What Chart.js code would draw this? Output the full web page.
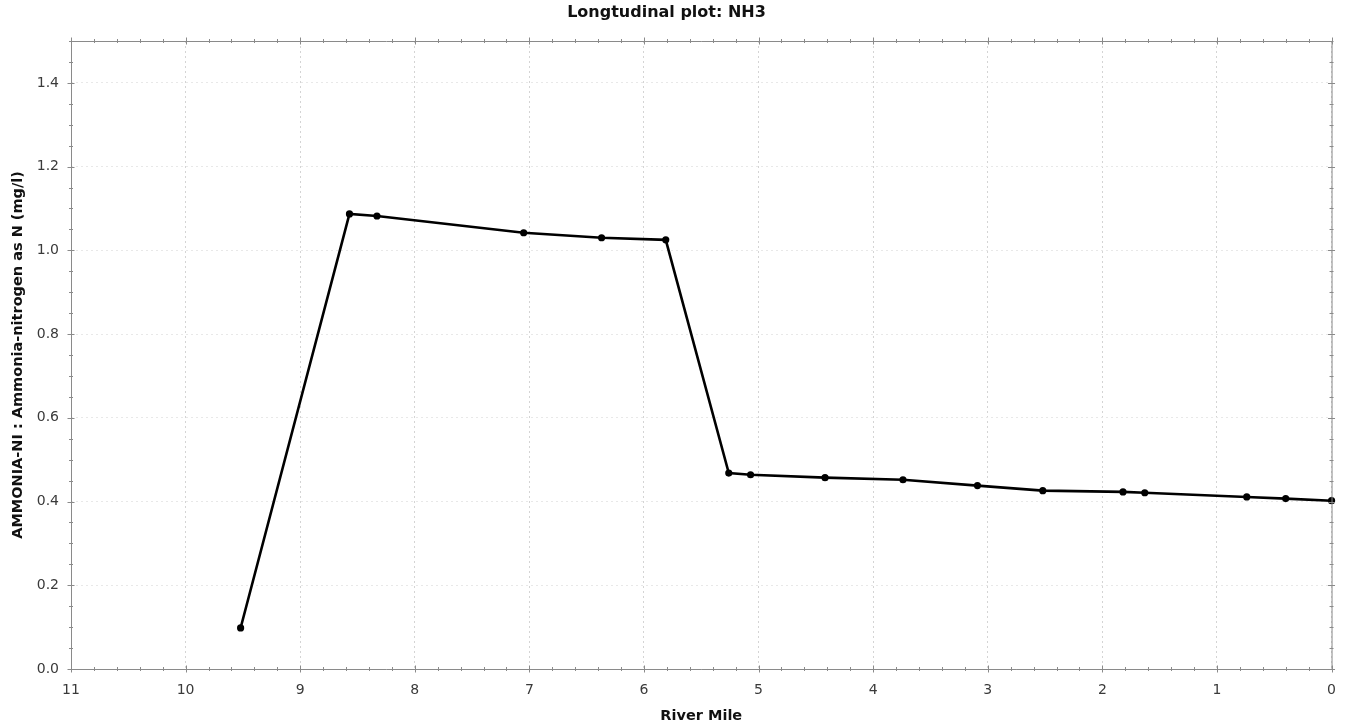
<!DOCTYPE html>
<html>
<head>
<meta charset="utf-8">
<script src="https://cdn.jsdelivr.net/npm/chart.js@4/dist/chart.umd.min.js"></script>
<style>
  body { margin: 0; background: #fff; }
  #wrap { width: 1349px; height: 725px; }
</style>
</head>
<body>
<div id="wrap"><canvas id="myChart"></canvas></div>
<script>
const riverMile = [9.52, 8.57, 8.33, 7.05, 6.37, 5.81, 5.26, 5.07, 4.42, 3.74, 3.09, 2.52, 1.82, 1.63, 0.74, 0.40, 0.0];
const nh3 = [0.098, 1.087, 1.082, 1.042, 1.030, 1.025, 0.468, 0.464, 0.457, 0.452, 0.438, 0.426, 0.423, 0.421, 0.411, 0.407, 0.402];

const xMin = 0, xMax = 11, xStep = 1, xMinor = 0.2;
const yMin = 0, yMax = 1.5, yStep = 0.2, yMinor = 0.05;

const axisColor = '#8a8a8a';
const labelColor = '#3a3a3a';

// frame on all four sides plus major/minor tick marks
const frameTicks = {
  id: 'frameTicks',
  afterDraw(chart) {
    const { ctx, chartArea: a, scales: { x, y } } = chart;
    ctx.save();
    ctx.strokeStyle = axisColor;
    ctx.lineWidth = 1;
    ctx.beginPath();
    ctx.rect(a.left + 0.5, a.top + 0.5, a.right - a.left, a.bottom - a.top);
    ctx.stroke();
    ctx.beginPath();
    for (let v = xMin; v <= xMax + 1e-9; v += xMinor) {
      const major = Math.abs(v - Math.round(v / xStep) * xStep) < 1e-6;
      const len = major ? 3.5 : 2;
      const px = Math.round(x.getPixelForValue(v)) + 0.5;
      ctx.moveTo(px, a.bottom - len); ctx.lineTo(px, a.bottom + len);
      ctx.moveTo(px, a.top - len); ctx.lineTo(px, a.top + len);
    }
    for (let v = yMin; v <= yMax + 1e-9; v += yMinor) {
      const major = Math.abs(v - Math.round(v / yStep) * yStep) < 1e-6;
      const len = major ? 3.5 : 2;
      const py = Math.round(y.getPixelForValue(v)) + 0.5;
      ctx.moveTo(a.left - len, py); ctx.lineTo(a.left + len, py);
      ctx.moveTo(a.right - len, py); ctx.lineTo(a.right + len, py);
    }
    ctx.stroke();
    ctx.restore();
  }
};

const ctx = document.getElementById('myChart').getContext('2d');

const myChart = new Chart(ctx, {
  type: 'line',
  data: {
    datasets: [{
      label: 'NH3',
      data: riverMile.map((m, i) => ({ x: m, y: nh3[i] })),
      borderColor: '#000',
      backgroundColor: '#000',
      borderWidth: 2.6,
      pointRadius: 3.6,
      pointBackgroundColor: '#000',
      pointBorderWidth: 0,
      tension: 0,
      clip: false
    }]
  },
  options: {
    responsive: true,
    maintainAspectRatio: false,
    animation: false,
    layout: { padding: { right: 16 } },
    plugins: {
      legend: { display: false },
      tooltip: { enabled: false },
      title: {
        display: true,
        text: 'Longtudinal plot: NH3',
        color: '#111',
        font: { family: 'DejaVu Sans', size: 16, weight: 'bold', lineHeight: 1.2 },
        padding: { top: 3, bottom: 18.8 }
      }
    },
    scales: {
      x: {
        type: 'linear',
        reverse: true,
        min: xMin,
        max: xMax,
        afterFit: s => { s.height = 56; },
        border: { display: false, dash: [2, 3] },
        grid: { color: '#d4d4d4', drawTicks: false },
        ticks: {
          stepSize: xStep,
          padding: 13,
          maxRotation: 0,
          color: labelColor,
          font: { family: 'DejaVu Sans', size: 14 }
        },
        title: {
          display: true,
          text: 'River Mile',
          color: '#111',
          font: { family: 'DejaVu Sans', size: 14.5, weight: 'bold', lineHeight: 1.2 },
          padding: { top: 0, bottom: 0 }
        }
      },
      y: {
        min: yMin,
        max: yMax,
        afterFit: s => { s.width = 71; },
        border: { display: false, dash: [2, 3] },
        grid: { color: '#e8e8e8', drawTicks: false },
        ticks: {
          stepSize: yStep,
          includeBounds: false,
          padding: 12,
          color: labelColor,
          font: { family: 'DejaVu Sans', size: 14 },
          callback: v => v.toFixed(1)
        },
        title: {
          display: true,
          text: 'AMMONIA-NI : Ammonia-nitrogen as N (mg/l)',
          color: '#111',
          font: { family: 'DejaVu Sans', size: 14.5, weight: 'bold', lineHeight: 1.2 },
          padding: { top: 10, bottom: 0 }
        }
      }
    }
  },
  plugins: [frameTicks]
});
</script>
</body>
</html>
